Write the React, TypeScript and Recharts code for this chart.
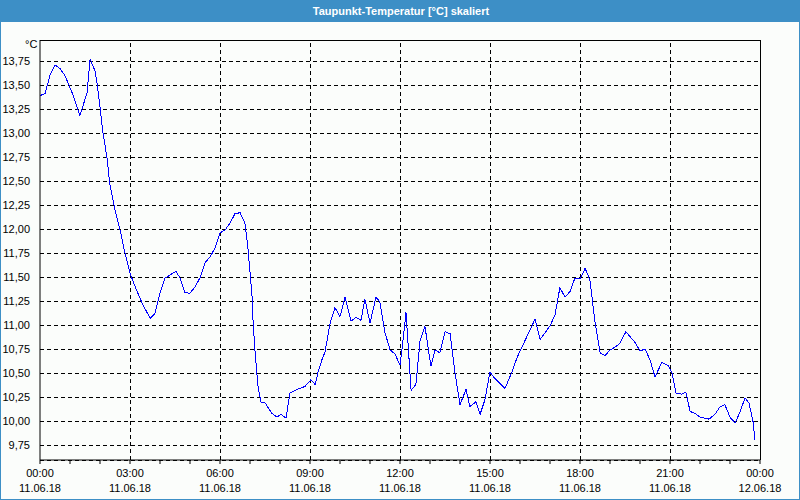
import { LineChart, Line, XAxis, YAxis, CartesianGrid, ReferenceLine } from 'recharts';

// Zeit in Stunden ab 11.06.18 00:00, Taupunkt in °C
const hours = [
  0, 0.17, 0.33, 0.5, 0.67, 0.83, 1.07, 1.33, 1.57, 1.67, 1.83, 1.9, 2, 2.1, 2.23, 2.33, 2.5, 2.67, 2.83,
  3, 3.17, 3.4, 3.67, 3.83, 4, 4.17, 4.33, 4.53, 4.67, 4.83, 5, 5.17, 5.33, 5.5, 5.67, 5.83,
  6, 6.17, 6.33, 6.5, 6.67, 6.83, 6.93, 7.07, 7.1, 7.17, 7.27, 7.37, 7.5, 7.73, 7.9, 8.03, 8.2, 8.33, 8.57, 8.83,
  9.03, 9.17, 9.27, 9.4, 9.5, 9.67, 9.83, 10, 10.17, 10.37, 10.53, 10.7, 10.83, 11, 11.2, 11.33, 11.5, 11.67, 11.83,
  12, 12.1, 12.2, 12.37, 12.53, 12.67, 12.83, 13.03, 13.17, 13.33, 13.5, 13.67, 13.83, 14, 14.2, 14.33, 14.53, 14.67, 14.83,
  15, 15.17, 15.5, 15.73, 15.9, 16.23, 16.5, 16.67, 17, 17.17, 17.33, 17.5, 17.67, 17.83,
  18, 18.17, 18.33, 18.5, 18.67, 18.83, 19, 19.17, 19.33, 19.53, 19.83, 20, 20.17, 20.33, 20.5, 20.73, 20.93,
  21.07, 21.2, 21.4, 21.53, 21.67, 21.83, 22, 22.3, 22.5, 22.67, 22.83, 23, 23.17, 23.33, 23.5, 23.63, 23.77, 23.83,
];

const dewPoint = [
  13.39, 13.41, 13.6, 13.71, 13.67, 13.6, 13.42, 13.18, 13.42, 13.77, 13.65, 13.52, 13.27, 13.0, 12.75, 12.46, 12.2, 11.99, 11.75,
  11.54, 11.4, 11.23, 11.07, 11.12, 11.33, 11.49, 11.52, 11.56, 11.49, 11.34, 11.33, 11.4, 11.49, 11.65, 11.71, 11.8,
  11.96, 11.99, 12.06, 12.16, 12.17, 12.06, 11.81, 11.29, 11.05, 10.71, 10.35, 10.19, 10.19, 10.08, 10.04, 10.07, 10.03, 10.29, 10.33, 10.36,
  10.43, 10.38, 10.51, 10.64, 10.72, 11.02, 11.18, 11.09, 11.29, 11.04, 11.08, 11.05, 11.27, 11.02, 11.29, 11.24, 10.92, 10.74, 10.7,
  10.58, 10.84, 11.13, 10.32, 10.38, 10.84, 10.99, 10.57, 10.74, 10.71, 10.93, 10.91, 10.51, 10.17, 10.33, 10.15, 10.2, 10.07, 10.22,
  10.51, 10.44, 10.34, 10.51, 10.66, 10.88, 11.06, 10.85, 10.99, 11.11, 11.39, 11.29, 11.35, 11.49,
  11.48, 11.59, 11.47, 11.03, 10.71, 10.68, 10.74, 10.77, 10.81, 10.93, 10.82, 10.73, 10.75, 10.64, 10.46, 10.61, 10.58,
  10.5, 10.29, 10.28, 10.3, 10.1, 10.08, 10.04, 10.02, 10.07, 10.15, 10.17, 10.04, 9.98, 10.09, 10.24, 10.19, 9.99, 9.8,
];

const yTicks = [9.75, 10, 10.25, 10.5, 10.75, 11, 11.25, 11.5, 11.75, 12, 12.25, 12.5, 12.75, 13, 13.25, 13.5, 13.75];
const hourTicks = [0, 1, 2, 3, 4, 5, 6, 7, 8, 9, 10, 11, 12, 13, 14, 15, 16, 17, 18, 19, 20, 21, 22, 23, 24];
const gridHours = [3, 6, 9, 12, 15, 18, 21];
const labelHours = [0, 3, 6, 9, 12, 15, 18, 21, 24];
const timeLabels = ['00:00', '03:00', '06:00', '09:00', '12:00', '15:00', '18:00', '21:00', '00:00'];
const dateLabels = ['11.06.18', '11.06.18', '11.06.18', '11.06.18', '11.06.18', '11.06.18', '11.06.18', '11.06.18', '12.06.18'];

const data = hours.map((h, i) => ({ h, v: dewPoint[i] }));

const Y_MIN = 9.594;
const Y_MAX = 13.969;
const FONT = '"Liberation Sans", Arial, sans-serif';

const TimeTick = (props: any) => {
  const { x, y, payload } = props;
  const idx = labelHours.indexOf(payload.value);
  if (idx < 0) return <g />;
  return (
    <g>
      <text x={x} y={y} dy={11} textAnchor="middle" fontSize={11} fontFamily={FONT} fill="#000">
        {timeLabels[idx]}
      </text>
      <text x={x} y={y} dy={26} textAnchor="middle" fontSize={11} fontFamily={FONT} fill="#000">
        {dateLabels[idx]}
      </text>
    </g>
  );
};

export default function App() {
  return (
    <div
      style={{
        position: 'absolute',
        left: 0,
        top: 0,
        width: 800,
        height: 500,
        boxSizing: 'border-box',
        border: '1px solid #3d8fc6',
        background: '#fbfdfb',
        overflow: 'hidden',
      }}
    >
      <div
        style={{
          position: 'absolute',
          left: 0,
          top: 0,
          width: 800,
          height: 21,
          background: '#3d8fc6',
          color: '#fff',
          fontFamily: FONT,
          fontWeight: 'bold',
          fontSize: 11,
          lineHeight: '21px',
          textAlign: 'center',
        }}
      >
        Taupunkt-Temperatur [°C] skaliert
      </div>
      <div
        style={{ position: 'absolute', left: 24, top: 37, fontFamily: FONT, fontSize: 11, color: '#000' }}
      >
        °C
      </div>
      <div style={{ position: 'absolute', left: -1, top: -1 }}>
        <LineChart width={800} height={500} data={data} margin={{ top: 40, right: 40, left: 0, bottom: 0 }}>
          <CartesianGrid vertical={false} stroke="#000" strokeDasharray="4 3" shapeRendering="crispEdges" />
          {gridHours.map((g) => (
            <ReferenceLine key={g} x={g} stroke="#000" strokeDasharray="4 3" shapeRendering="crispEdges" />
          ))}
          <ReferenceLine x={24} stroke="#000" shapeRendering="crispEdges" />
          <ReferenceLine y={Y_MAX} stroke="#000" shapeRendering="crispEdges" />
          <XAxis
            dataKey="h"
            type="number"
            domain={[0, 24]}
            ticks={hourTicks}
            interval={0}
            height={40}
            stroke="#000"
            tickSize={4}
            tick={<TimeTick />}
          />
          <YAxis
            type="number"
            domain={[Y_MIN, Y_MAX]}
            ticks={yTicks}
            interval={0}
            width={40}
            stroke="#000"
            tickLine={false}
            tickMargin={4}
            tick={{ fontSize: 11, fontFamily: FONT, fill: '#000' }}
            tickFormatter={(v: number) => v.toFixed(2).replace('.', ',')}
          />
          <Line
            type="linear"
            dataKey="v"
            stroke="#0000ff"
            strokeWidth={1}
            dot={false}
            shapeRendering="crispEdges"
            isAnimationActive={false}
          />
        </LineChart>
      </div>
    </div>
  );
}
